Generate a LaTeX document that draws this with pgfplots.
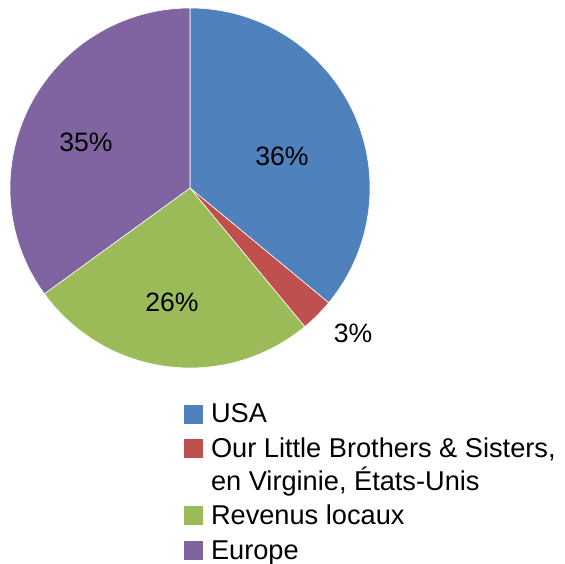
\documentclass[border=0pt]{standalone}
\usepackage{fontspec}
\setmainfont{Liberation Sans}
\usepackage{pgfplots}
\pgfplotsset{compat=1.18}
\definecolor{cUSA}{HTML}{4F81BD}
\definecolor{cOLB}{HTML}{C0504D}
\definecolor{cRev}{HTML}{9BBB59}
\definecolor{cEur}{HTML}{8064A2}

\begin{document}
\begin{tikzpicture}
\useasboundingbox (0,0) rectangle (282.5pt,281.5pt);
\begin{axis}[
  at={(0,0)},anchor=south west,
  width=282.5pt,height=281.5pt,scale only axis,
  xmin=0,xmax=565,ymin=-563,ymax=0,
  hide axis,clip=false,
  legend image code/.code={\fill[#1,draw=none] (0pt,-0.3pt) rectangle (9.5pt,9.2pt);},
  legend style={at={(axis cs:184,-398.5)},anchor=north west,draw=none,fill=none,
    inner sep=0pt,row sep=0pt,column sep=3.8pt,
    font=\fontsize{13.6}{16.35}\selectfont,
    cells={anchor=base west},
    nodes={inner sep=0pt,text height=12pt,text depth=5.3pt}},
]
% shares in percent, clockwise from 12 o'clock
\xdef\startang{90}
\foreach \v/\c in {36/cUSA,3/cOLB,26/cRev,35/cEur}{
  \pgfmathsetmacro\endang{\startang-3.6*\v}
  \edef\temp{\noexpand\fill[\c,draw=white,line width=0.3pt] (axis cs:190,-188) -- ++(\startang:90pt)
    arc[start angle=\startang,end angle=\endang,radius=90pt] -- cycle;}
  \temp
  \xdef\startang{\endang}
}
\node[font=\fontsize{13.3}{16}\selectfont] at (axis cs:282,-156) {36\%};
\node[font=\fontsize{13.3}{16}\selectfont] at (axis cs:86,-142) {35\%};
\node[font=\fontsize{13.3}{16}\selectfont] at (axis cs:172,-302) {26\%};
\node[font=\fontsize{13.3}{16}\selectfont] at (axis cs:353,-333) {3\%};

\addlegendimage{fill=cUSA}
\addlegendentry{USA}
\addlegendimage{fill=cOLB}
\addlegendentry[text depth=21.65pt]{\begin{tabular}[t]{@{}l@{}}Our Little Brothers \& Sisters,\\en Virginie, États-Unis\end{tabular}}
\addlegendimage{fill=cRev}
\addlegendentry{Revenus locaux}
\addlegendimage{fill=cEur}
\addlegendentry{Europe}
\end{axis}
\end{tikzpicture}
\end{document}
